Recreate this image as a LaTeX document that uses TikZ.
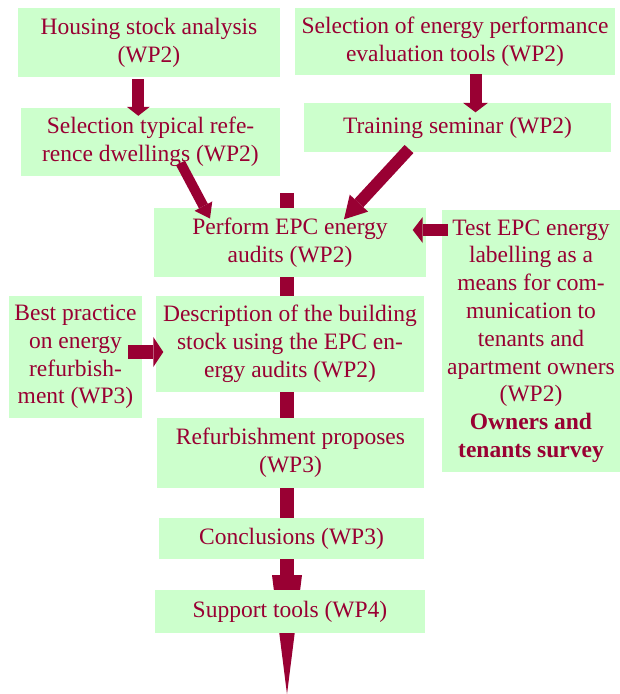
\documentclass[tikz,border=0pt]{standalone}
\usepackage{fontspec}
\setmainfont{Liberation Serif}
\usetikzlibrary{arrows.meta,backgrounds}
\definecolor{wine}{HTML}{990033}
\definecolor{mint}{HTML}{CCFFCC}

\begin{document}
\begin{tikzpicture}[x=1pt,y=-1pt]
   \tikzstyle{every node}=[rectangle,fill=mint,text=wine,inner sep=0pt,align=center,
                           font=\fontsize{23.5}{27.8}\selectfont]
\useasboundingbox (0,0) rectangle (620,694);

\node(housing) at (149,42.5) [minimum width=262pt,minimum height=69pt] {Housing stock analysis\\(WP2)};
\node(selenergy) at (455,41.5) [minimum width=320pt,minimum height=67pt] {Selection of energy performance\\evaluation tools (WP2)};
\node(seltypical) at (150.5,142) [minimum width=259pt,minimum height=68pt] {Selection typical refe-\\rence dwellings (WP2)};
\node(training) at (457.5,127.5) [minimum width=307pt,minimum height=49pt] {Training seminar (WP2)};
\node(perform) at (290,242.5) [minimum width=272pt,minimum height=69pt] {Perform EPC energy\\audits (WP2)};
\node(test) at (531,341) [minimum width=178pt,minimum height=262pt] {Test EPC energy\\labelling as a\\means for com-\\munication to\\tenants and\\apartment owners\\(WP2)\\\textbf{Owners and}\\\textbf{tenants survey}};
\node(best) at (75.5,357) [minimum width=133pt,minimum height=122pt] {Best practice\\on energy\\refurbish-\\ment (WP3)};
\node(desc) at (290,344) [minimum width=268pt,minimum height=96pt] {Description of the building\\stock using the EPC en-\\ergy audits (WP2)};
\node(refurb) at (290.5,453) [minimum width=267pt,minimum height=70pt] {Refurbishment proposes\\(WP3)};
\node(concl) at (291.5,538.5) [minimum width=265pt,minimum height=41pt] {Conclusions (WP3)};
\node(support) at (290,611.5) [minimum width=270pt,minimum height=43pt] {Support tools (WP4)};

\tikzstyle{fat}=[draw=wine,line width=12pt]
% main line behind the boxes
\begin{scope}[on background layer]
\draw[fat,line width=14.5pt,-{Triangle[length=119pt,width=30pt,line width=0pt]}]
  ([shift={(-3,-15)}]perform.north) -- ([shift={(-3,61)}]support.south);
\end{scope}

\draw[fat,-{Triangle[length=9pt,width=23pt,line width=0pt]},shorten <=2pt,shorten >=-8pt]
  ([xshift=-10.7pt]housing.south) -- ([xshift=-10.7pt]housing.south |- seltypical.north);
\draw[fat,-{Triangle[length=9.5pt,width=25pt,line width=0pt]},shorten <=-1pt,shorten >=-9.5pt]
  ([xshift=20.5pt]selenergy.south) -- ([xshift=20.5pt]selenergy.south |- training.north);
\draw[fat,line width=10pt,-{Triangle[length=14pt,width=20pt,line width=0pt]}]
  ([shift={(30,21)}]seltypical.center) -- ([shift={(-80,-24)}]perform.center);
\draw[fat,-{Triangle[length=22pt,width=25pt,line width=0pt]}]
  ([shift={(-48.5,21.5)}]training.center) -- ([shift={(54,-23.2)}]perform.center);
\draw[fat,line width=12.5pt,-{Triangle[length=10pt,width=26pt,line width=0pt]}]
  ([shift={(-83.3,-111)}]test.center) -- ([shift={(122.7,-12.5)}]perform.center);
\draw[fat,line width=14pt,-{Triangle[length=10pt,width=30pt,line width=0pt]}]
  ([shift={(52.8,-5)}]best.center) -- ([shift={(-126.7,8)}]desc.center);

\end{tikzpicture}
\end{document}
